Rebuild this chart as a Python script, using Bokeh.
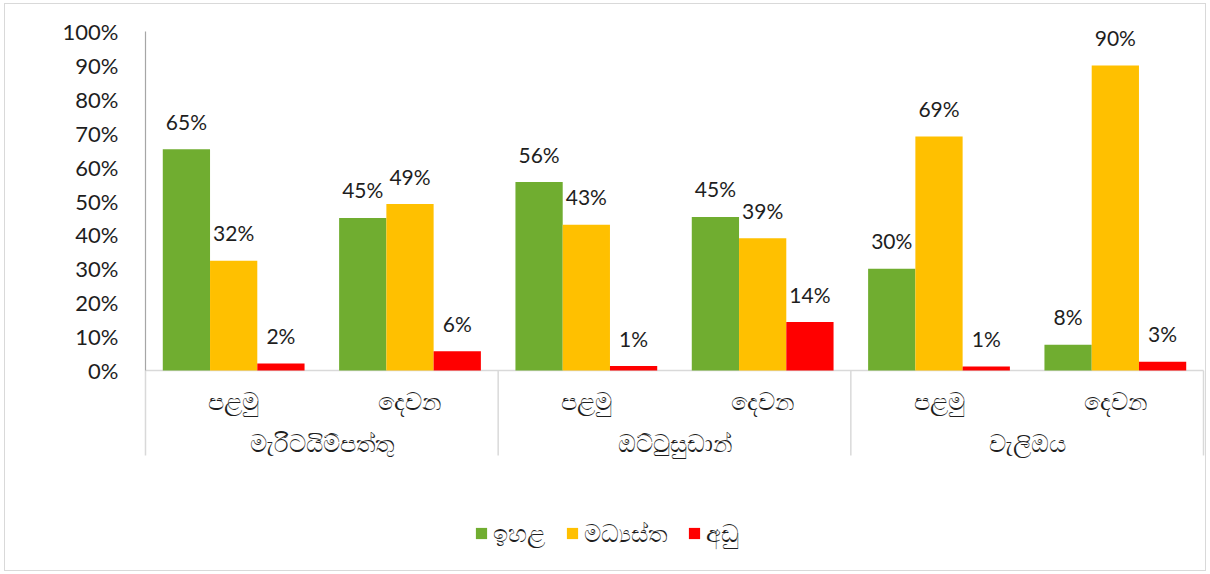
from bokeh.plotting import figure
from bokeh.models import (FactorRange, Range1d, ColumnDataSource, FixedTicker,
                          PrintfTickFormatter, Legend, LegendItem)
from bokeh.transform import dodge
from bokeh.core.properties import value
from bokeh.embed import file_html
from bokeh.resources import INLINE

# ---- data ----
groups = ["මැරිටයිම්පත්තු", "ඔට්ටුසුඩාන්", "වැලිඔය"]
subs = ["පළමු", "දෙවන"]
series = ["ඉහළ", "මධ්‍යස්ත", "අඩු"]
high = [65.3, 45.0, 55.6, 45.3, 30.0, 7.6]
medium = [32.4, 49.1, 43.0, 39.0, 69.0, 90.0]
low = [2.1, 5.7, 1.3, 14.3, 1.2, 2.6]
colors = ["#70AD30", "#FFC000", "#FF0000"]
y_ticks = [0, 10, 20, 30, 40, 50, 60, 70, 80, 90, 100]

factors = [(g, s) for g in groups for s in subs]

FONT = "Lato"
SIN_FONT = "Noto Sans"
TXT = "#1e1e1e"

x_range = FactorRange(*factors, range_padding=0.00378, group_padding=0,
                      factor_padding=0, subgroup_padding=0)
p = figure(x_range=x_range, y_range=Range1d(-56.05, 100.3),
           width=1202, height=568, output_backend="svg", toolbar_location=None,
           x_axis_location=None,
           min_border_left=138, min_border_right=2, min_border_top=26,
           min_border_bottom=12)
p.styles = {"border": "1px solid #d9d9d9", "margin-left": "4px", "margin-top": "3px"}
p.outline_line_color = None
p.xgrid.grid_line_color = None
p.ygrid.grid_line_color = None

ax = p.yaxis[0]
ax.ticker = FixedTicker(ticks=y_ticks)
ax.formatter = PrintfTickFormatter(format="%d%%")
ax.axis_line_color = None
ax.major_tick_line_color = None
ax.minor_tick_line_color = None
ax.major_label_standoff = 19
ax.major_label_text_font = FONT
ax.major_label_text_font_size = "22px"
ax.major_label_text_color = TXT

# axis lines and category separators
p.segment(x0=[(groups[0], subs[0], -0.5)], y0=[0], x1=[(groups[2], subs[1], 0.5)],
          y1=[0], line_color="#d9d9d9", line_width=1.5)
sep = ColumnDataSource(dict(
    x=[(groups[0], subs[0], -0.5), (groups[1], subs[0], -0.5),
       (groups[2], subs[0], -0.5), (groups[2], subs[1], 0.5)]))
p.segment(x0="x", y0=0, x1="x", y1=-25.07, source=sep, line_color="#d9d9d9", line_width=1.5)
p.segment(x0=[(groups[0], subs[0], -0.5)], y0=[0], x1=[(groups[0], subs[0], -0.5)],
          y1=[100], line_color="#a6a6a6", line_width=1.2)

src = ColumnDataSource(dict(
    x=factors, high=high, medium=medium, low=low,
    high_l=[f"{round(v)}%" for v in high],
    medium_l=[f"{round(v)}%" for v in medium],
    low_l=[f"{round(v)}%" for v in low],
))

bw = 0.268
items = []
for i, (col, name) in enumerate(zip(["high", "medium", "low"], series)):
    off = (i - 1) * bw
    r = p.vbar(x=dodge("x", off, range=x_range), top=col, width=bw, bottom=0,
               source=src, fill_color=colors[i], line_color=None)
    p.text(x=dodge("x", off, range=x_range), y=col, text=col + "_l", source=src,
           text_align="center", text_baseline="alphabetic", y_offset=-28,
           text_font=value(FONT), text_font_size="21px", text_color=TXT)
    items.append(LegendItem(label=name, renderers=[r]))

# category labels
sub_src = ColumnDataSource(dict(x=factors, t=[f[1] for f in factors]))
p.text(x="x", y=-8.85, text="t", source=sub_src, text_align="center",
       text_baseline="middle", text_font=value(SIN_FONT), text_font_size="24px",
       text_color=TXT)
grp_src = ColumnDataSource(dict(x=[(g, subs[1], -0.5) for g in groups], t=groups))
p.text(x="x", y=-21.2, text="t", source=grp_src, text_align="center",
       text_baseline="middle", text_font=value(SIN_FONT), text_font_size="24px",
       text_color=TXT)

legend = Legend(items=items, orientation="horizontal", location=(331, 11),
                glyph_width=14, glyph_height=14, label_text_font=SIN_FONT,
                label_text_font_size="24px", label_text_color=TXT, spacing=20,
                label_standoff=5, padding=0, margin=0, border_line_color=None,
                background_fill_alpha=0)
p.add_layout(legend)

open("out.html", "w").write(file_html(p, INLINE))
